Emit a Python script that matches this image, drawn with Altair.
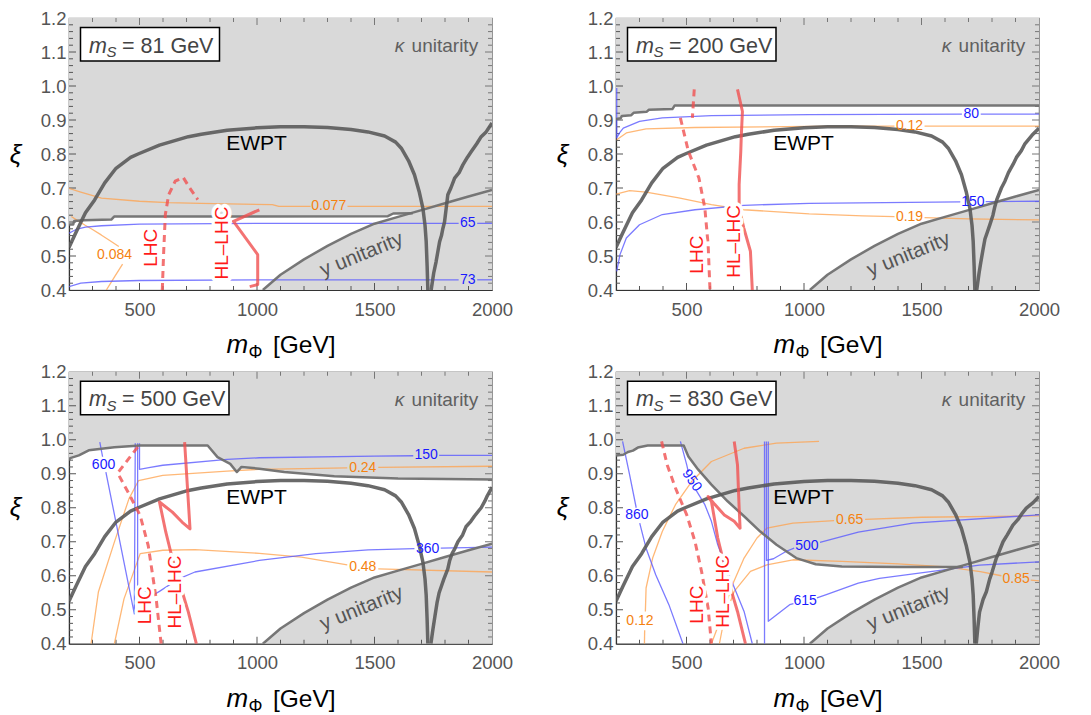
import altair as alt
import pandas as pd

# ---------------------------------------------------------------- data
# shared curves (m_Phi [GeV], xi)
EWPT_LEFT = [(200, 0.525), (230, 0.57), (270, 0.627), (309, 0.665), (352, 0.715), (400, 0.758),
             (462, 0.79), (494, 0.80), (585, 0.826), (708, 0.851), (763, 0.858), (873, 0.87),
             (1000, 0.877), (1100, 0.88), (1200, 0.88), (1300, 0.878), (1400, 0.872), (1472, 0.865),
             (1543, 0.853), (1590, 0.835), (1614, 0.817), (1645, 0.78), (1670, 0.739), (1690, 0.69),
             (1706, 0.64), (1715, 0.59), (1720, 0.542), (1724, 0.47), (1727, 0.40)]
Y_UNITARITY = [(1025, 0.40), (1100, 0.445), (1200, 0.49), (1300, 0.53), (1400, 0.565), (1500, 0.595),
               (1600, 0.615), (1700, 0.635), (1800, 0.655), (1900, 0.675), (2000, 0.694)]

# panel 1 : m_S = 81 GeV
P1_KAPPA = [(200, 0.593), (218, 0.593), (222, 0.603), (262, 0.605), (380, 0.607), (392, 0.616),
            (1557, 0.617), (1580, 0.625), (1663, 0.626)]
P1_EWPT_R = [(1741, 0.40), (1752, 0.45), (1762, 0.483), (1777, 0.542), (1785, 0.56), (1791, 0.581),
             (1798, 0.60), (1805, 0.64), (1812, 0.68), (1825, 0.70), (1841, 0.729), (1860, 0.745),
             (1876, 0.768), (1895, 0.79), (1912, 0.807), (1935, 0.83), (1954, 0.851), (1975, 0.865),
             (2000, 0.891)]
P1_OR_0077 = [(200, 0.699), (250, 0.688), (338, 0.67), (500, 0.661), (621, 0.657), (762, 0.655),
              (1065, 0.651), (1093, 0.646), (1228, 0.646), None, (1385, 0.646), (2000, 0.646)]
P1_OR_0084 = [(359, 0.40), (395, 0.44), (428, 0.476), None, (412, 0.528), (370, 0.547), (337, 0.562),
              (300, 0.578), (267, 0.591), (230, 0.607), (210, 0.616)]
P1_BL_65 = [(200, 0.567), (230, 0.578), (270, 0.585), (338, 0.589), (500, 0.594), (1000, 0.596),
            (1858, 0.596), None, (1937, 0.596), (2000, 0.596)]
P1_BL_73 = [(200, 0.41), (250, 0.42), (338, 0.425), (500, 0.428), (1000, 0.43), (1858, 0.43), None,
            (1937, 0.43), (2000, 0.43)]
P1_LHC = [(597, 0.40), (603, 0.514), (610, 0.622), (624, 0.68), (652, 0.72), (686, 0.731), (714, 0.70),
          (748, 0.666)]
P1_HLLHC = [(969, 0.41), (1003, 0.416), (1003, 0.504), (900, 0.602), (1010, 0.636)]
P1_CLABELS = [("0.077", 1305, 0.646, "o", 0), ("0.084", 394, 0.503, "o", 0),
              ("65", 1897, 0.596, "b", 0), ("73", 1897, 0.43, "b", 0)]

# panel 2 : m_S = 200 GeV
P2_KAPPA = [(200, 0.903), (220, 0.905), (225, 0.912), (265, 0.914), (275, 0.921), (330, 0.924),
            (340, 0.93), (440, 0.932), (450, 0.943), (2000, 0.943)]
P2_EWPT_R = [(1735, 0.40), (1745, 0.45), (1752, 0.48), (1762, 0.52), (1770, 0.55), (1780, 0.57),
             (1790, 0.59), (1804, 0.62), (1812, 0.645), (1820, 0.665), (1840, 0.70), (1855, 0.72),
             (1870, 0.745), (1890, 0.77), (1904, 0.79), (1925, 0.81), (1940, 0.83), (1970, 0.855),
             (2000, 0.876)]
P2_BL_80 = [(203, 0.994), (203, 0.847), (215, 0.862), (231, 0.876), (300, 0.896), (397, 0.906),
            (606, 0.913), (1022, 0.916), (1672, 0.917), None, (1752, 0.917), (2000, 0.917)]
P2_OR_012 = [(203, 0.842), (244, 0.862), (328, 0.874), (536, 0.878), (1022, 0.881), (1385, 0.882), None,
             (1513, 0.882), (2000, 0.882)]
P2_OR_019 = [(200, 0.682), (258, 0.692), (328, 0.688), (467, 0.671), (606, 0.651), (744, 0.636),
             (1022, 0.624), (1250, 0.618), (1385, 0.616), None, (1513, 0.613), (1700, 0.609), (2000, 0.606)]
P2_BL_150 = [(203, 0.455), (217, 0.504), (244, 0.553), (300, 0.592), (397, 0.622), (536, 0.636),
             (744, 0.649), (1022, 0.655), (1665, 0.659), None, (1773, 0.66), (2000, 0.661)]
P2_LHC = [(533, 0.99), (525, 0.906), None, (474, 0.906), (508, 0.808), (553, 0.729), (578, 0.641),
          (592, 0.533), (600, 0.40)]
P2_HLLHC = [(717, 0.99), (738, 0.925), (733, 0.85), (731, 0.808), (724, 0.71), (724, 0.641), (744, 0.582),
            (772, 0.514), (780, 0.40)]
P2_CLABELS = [("80", 1712, 0.917, "b", 0), ("0.12", 1449, 0.882, "o", 0),
              ("0.19", 1449, 0.615, "o", 0), ("150", 1719, 0.659, "b", 0)]

# panel 3 : m_S = 500 GeV
P3_KAPPA = [(200, 0.94), (205, 0.946), (242, 0.954), (284, 0.969), (393, 0.978), (503, 0.983),
            (790, 0.983), (832, 0.949), (886, 0.929), (914, 0.905), (934, 0.92), (1010, 0.915),
            (1116, 0.905), (1329, 0.893), (1600, 0.886), (2000, 0.883)]
P3_EWPT_R = [(1740, 0.40), (1748, 0.44), (1757, 0.48), (1766, 0.52), (1775, 0.55), (1785, 0.57),
             (1795, 0.59), (1812, 0.62), (1820, 0.645), (1830, 0.665), (1842, 0.68), (1855, 0.70),
             (1875, 0.72), (1890, 0.745), (1910, 0.76), (1925, 0.775), (1954, 0.80), (1970, 0.82),
             (1980, 0.835), (2000, 0.86)]
P3_BL_600 = [(331, 0.993), (343, 0.95), None, (357, 0.905), (478, 0.488), (482, 0.99)]
P3_BL_150 = [(500, 0.99), (500, 0.913), (540, 0.918), (599, 0.925), (873, 0.942), (1010, 0.947),
             (1500, 0.952), (1665, 0.953), None, (1775, 0.954), (2000, 0.954)]
P3_BL_360 = [(492, 0.99), (492, 0.57), (555, 0.542), (585, 0.554), (667, 0.591), (736, 0.611),
             (1010, 0.645), (1250, 0.665), (1473, 0.676), (1670, 0.68), None, (1782, 0.681), (2000, 0.684)]
P3_OR_024 = [(294, 0.40), (325, 0.552), (393, 0.699), (455, 0.826), (496, 0.88), (599, 0.895),
             (873, 0.908), (1010, 0.913), (1384, 0.917), None, (1516, 0.919), (2000, 0.922)]
P3_OR_048 = [(393, 0.40), (434, 0.532), (503, 0.665), (599, 0.675), (736, 0.677), (1010, 0.666),
             (1189, 0.655), (1384, 0.632), None, (1516, 0.62), (2000, 0.611)]
P3_LHC = [(592, 0.40), (571, 0.532), (537, 0.689), (503, 0.777), (455, 0.841), (407, 0.902),
          (455, 0.945), (503, 0.988)]
P3_HLLHC = [(742, 0.40), (708, 0.493), (640, 0.65), (612, 0.728), (585, 0.817), (640, 0.787),
            (681, 0.758), (715, 0.738), (692, 0.993)]
P3_CLABELS = [("600", 347, 0.927, "b", 0), ("150", 1720, 0.954, "b", 0), ("360", 1726, 0.68, "b", 0),
              ("0.24", 1450, 0.918, "o", 0), ("0.48", 1450, 0.626, "o", 0)]

# panel 4 : m_S = 830 GeV
P4_KAPPA = [(200, 0.954), (231, 0.956), (251, 0.964), (272, 0.968), (293, 0.977), (335, 0.983),
            (488, 0.983), (508, 0.951), (550, 0.912), (606, 0.868), (675, 0.819), (745, 0.775),
            (814, 0.73), (883, 0.691), (967, 0.652), (1050, 0.634), (1161, 0.627), (1400, 0.626),
            (1676, 0.626)]
P4_EWPT_R = [(1733, 0.40), (1740, 0.45), (1747, 0.493), (1762, 0.53), (1776, 0.553), (1790, 0.59),
             (1800, 0.61), (1818, 0.651), (1830, 0.67), (1847, 0.70), (1865, 0.72), (1889, 0.749),
             (1910, 0.765), (1930, 0.785), (1946, 0.799), (1975, 0.815), (2000, 0.833)]
P4_BL_860 = [(228, 0.995), (258, 0.897), (286, 0.80), None, (301, 0.755), (328, 0.681), (369, 0.603),
             (425, 0.515), (485, 0.40)]
P4_BL_950 = [(474, 0.995), (501, 0.926), (508, 0.905), None, (538, 0.855), (578, 0.809), (606, 0.76),
             (633, 0.691), (675, 0.613), (745, 0.495), (780, 0.40)]
P4_BL_VERT = [(832, 0.995), (832, 0.40)]
P4_BL_500 = [(840, 0.995), (840, 0.645), (870, 0.65), (925, 0.672), (958, 0.681), None, (1068, 0.698),
             (1231, 0.728), (1463, 0.755), (2000, 0.779)]
P4_BL_615 = [(848, 0.995), (848, 0.466), (939, 0.515), (955, 0.518), None, (1055, 0.535), (1092, 0.544),
             (1231, 0.578), (1321, 0.592), (1747, 0.631), (2000, 0.641)]
P4_OR_012 = [(321, 0.40), (322, 0.44), None, (325, 0.495), (328, 0.564), (356, 0.652), (397, 0.73),
             (453, 0.809), (522, 0.877), (606, 0.936), (745, 0.975), (883, 0.99), (1064, 0.995)]
P4_OR_065 = [(606, 0.40), (647, 0.475), (696, 0.574), (745, 0.652), (800, 0.711), (842, 0.74),
             (953, 0.755), (1128, 0.762), None, (1260, 0.766), (1500, 0.772), (2000, 0.776)]
P4_OR_085 = [(640, 0.40), (661, 0.475), (703, 0.554), (772, 0.613), (842, 0.632), (953, 0.647),
             (1161, 0.642), (1400, 0.635), (1605, 0.626), (1750, 0.612), (1840, 0.60), None,
             (1965, 0.587), (2000, 0.585)]
P4_LHC = [(394, 0.995), (418, 0.926), (453, 0.858), (501, 0.779), (536, 0.701), (564, 0.613),
          (592, 0.505), (606, 0.40)]
P4_HLLHC = [(751, 0.40), (717, 0.495), (675, 0.593), (633, 0.711), (606, 0.819), (592, 0.833),
            (620, 0.81), (661, 0.779), (703, 0.76), (728, 0.74), (724, 0.80), (717, 0.926), (703, 0.995)]
P4_CLABELS = [("860", 289, 0.778, "b", 0), ("950", 522, 0.88, "b", 55), ("500", 1012, 0.688, "b", 0),
              ("615", 1005, 0.526, "b", 0), ("0.12", 302, 0.466, "o", 0), ("0.65", 1194, 0.764, "o", 0),
              ("0.85", 1903, 0.59, "o", 0)]

MASSES = ["81", "200", "500", "830"]
X_TICKS = [500, 1000, 1500, 2000]
Y_TICKS = [0.4, 0.5, 0.6, 0.7, 0.8, 0.9, 1.0, 1.1, 1.2]

PANELS = [
    dict(mass=MASSES[0], kappa=P1_KAPPA, ewpt_r=P1_EWPT_R, orange=[P1_OR_0077, P1_OR_0084],
         blue=[P1_BL_65, P1_BL_73], lhc=P1_LHC, hllhc=P1_HLLHC, lhc_lab=(548, 0.524),
         hl_lab=(852, 0.538), clabels=P1_CLABELS),
    dict(mass=MASSES[1], kappa=P2_KAPPA, ewpt_r=P2_EWPT_R, orange=[P2_OR_012, P2_OR_019],
         blue=[P2_BL_80, P2_BL_150], lhc=P2_LHC, hllhc=P2_HLLHC, lhc_lab=(543, 0.504),
         hl_lab=(703, 0.543), clabels=P2_CLABELS),
    dict(mass=MASSES[2], kappa=P3_KAPPA, ewpt_r=P3_EWPT_R, orange=[P3_OR_024, P3_OR_048],
         blue=[P3_BL_600, P3_BL_150, P3_BL_360], lhc=P3_LHC, hllhc=P3_HLLHC, lhc_lab=(523, 0.513),
         hl_lab=(653, 0.552), clabels=P3_CLABELS),
    dict(mass=MASSES[3], kappa=P4_KAPPA, ewpt_r=P4_EWPT_R, orange=[P4_OR_012, P4_OR_065, P4_OR_085],
         blue=[P4_BL_860, P4_BL_950, P4_BL_VERT, P4_BL_500, P4_BL_615], lhc=P4_LHC, hllhc=P4_HLLHC,
         lhc_lab=(543, 0.515), hl_lab=(654, 0.554), clabels=P4_CLABELS),
]

# ---------------------------------------------------------------- style
W, H = 423, 272
FONT = "Liberation Sans"
FILL = "#d9d9d9"
BOUND = "#707070"
EWPT_C = "#5a5a5a"
ORANGE = "#ffa04a"
BLUE = "#5a5aff"
RED = "#f05050"
ORANGE_T = "#f58210"
BLUE_T = "#1a1aff"

XS = alt.Scale(domain=[200, 2000], nice=False, zero=False)
YS = alt.Scale(domain=[0.4, 1.2], nice=False, zero=False)
X_AXIS = alt.Axis(values=X_TICKS, format="d", title=None, grid=False, ticks=False, tickSize=0,
                  labelPadding=10, labelFontSize=18.5, labelColor="#555555", labelFont=FONT,
                  labelFlush=False, labelOverlap=False,
                  domainColor="#333333", domainWidth=1.2)
Y_AXIS = alt.Axis(values=Y_TICKS, format=".1f", title="ξ", grid=False, ticks=False, tickSize=0,
                  labelPadding=3, labelFontSize=18.5, labelColor="#555555", labelFont=FONT,
                  labelFlush=False, labelOverlap=False,
                  domainColor="#333333", domainWidth=1.2, titleFont=FONT, titleFontSize=26,
                  titleFontStyle="italic", titleFontWeight="normal", titleAngle=0, titleX=-54,
                  titleY=H / 2, titleAlign="center", titleBaseline="middle", titleColor="black")


def X():
    return alt.X("x:Q", scale=XS, axis=X_AXIS)


def Y():
    return alt.Y("y:Q", scale=YS, axis=Y_AXIS)


ONE = pd.DataFrame({"k": [0]})


def seg_rows(points, key):
    rows, seg, i = [], 0, 0
    for p in points:
        if p is None:
            seg += 1
            continue
        rows.append({"seg": f"{key}_{seg}", "i": i, "x": p[0], "y": p[1]})
        i += 1
    return rows


def line_layer(curves, color, width, dash=None, opacity=1.0):
    rows = []
    for k, pts in enumerate(curves):
        rows += seg_rows(pts, k)
    kw = dict(color=color, strokeWidth=width, opacity=opacity, clip=True, strokeJoin="round")
    if dash:
        kw["strokeDash"] = dash
    return alt.Chart(pd.DataFrame(rows)).mark_line(**kw).encode(
        x=X(), y=Y(), detail="seg:N", order="i:Q")


def area_layer(points, edge):
    pts = list(points)
    if pts[-1][0] < 2000:
        pts.append((2000, pts[-1][1]))
    df = pd.DataFrame(pts, columns=["x", "y"])
    return alt.Chart(df).mark_area(color=FILL, opacity=1, clip=True).encode(
        x=X(), y=Y(), y2=alt.datum(edge))


def tick_layers():
    xmaj = pd.DataFrame({"x": [500, 1000, 1500]})
    xmin = pd.DataFrame({"x": [v for v in range(300, 2000, 100) if v % 500]})
    ymaj = pd.DataFrame({"y": [0.5, 0.6, 0.7, 0.8, 0.9, 1.0, 1.1]})
    ymin = pd.DataFrame({"y": [round(0.4 + 0.02 * k, 2) for k in range(1, 40) if k % 5]})
    out = []
    for df, ln in ((xmaj, 7), (xmin, 4)):
        out.append(alt.Chart(df).mark_rule(color="#555555", strokeWidth=1).encode(
            x=X(), y=alt.value(H), y2=alt.value(H - ln)))
        out.append(alt.Chart(df).mark_rule(color="#777777", strokeWidth=1).encode(
            x=X(), y=alt.value(0), y2=alt.value(ln)))
    for df, ln in ((ymaj, 7), (ymin, 4)):
        out.append(alt.Chart(df).mark_rule(color="#555555", strokeWidth=1).encode(
            y=Y(), x=alt.value(0), x2=alt.value(ln)))
        out.append(alt.Chart(df).mark_rule(color="#777777", strokeWidth=1).encode(
            y=Y(), x=alt.value(W), x2=alt.value(W - ln)))
    return out


def text_at(t, x, y, **kw):
    df = pd.DataFrame({"x": [x], "y": [y], "t": [t]})
    return alt.Chart(df).mark_text(font=FONT, **kw).encode(x=X(), y=Y(), text="t:N")


def px_text(t, x, y, **kw):
    return alt.Chart(ONE).mark_text(font=FONT, align="left", baseline="alphabetic", **kw).encode(
        x=alt.value(x), y=alt.value(y), text=alt.value(t))


def panel(spec):
    L = []
    L.append(area_layer(spec["kappa"], 1.2))
    L.append(area_layer(Y_UNITARITY, 0.4))
    L += tick_layers()
    L.append(line_layer(spec["orange"], ORANGE, 1.3, opacity=0.75))
    L.append(line_layer(spec["blue"], BLUE, 1.3, opacity=0.8))
    L.append(line_layer([spec["kappa"], Y_UNITARITY], BOUND, 2.5, opacity=0.95))
    L.append(line_layer([EWPT_LEFT, spec["ewpt_r"]], EWPT_C, 3.5, opacity=0.9))
    L.append(line_layer([spec["lhc"]], RED, 3, dash=[7, 5], opacity=0.8))
    L.append(line_layer([spec["hllhc"]], RED, 3, opacity=0.8))

    # contour labels
    cl = pd.DataFrame([{"t": t, "x": x, "y": y, "c": ORANGE_T if k == "o" else BLUE_T, "a": a}
                       for t, x, y, k, a in spec["clabels"]])
    L.append(alt.Chart(cl).mark_text(font=FONT, fontSize=14, baseline="middle").encode(
        x=X(), y=Y(), text="t:N", color=alt.Color("c:N", scale=None),
        angle=alt.Angle("a:Q", scale=None)))

    # LHC labels with white background halo
    for t, (x, y) in (("LHC", spec["lhc_lab"]), ("HL–LHC", spec["hl_lab"])):
        L.append(text_at(t, x, y, fontSize=19, angle=270, baseline="middle", fill="white",
                         stroke="white", strokeWidth=7, strokeJoin="round"))
        L.append(text_at(t, x, y, fontSize=19, angle=270, baseline="middle", color="#ff1a1a"))

    # region names
    L.append(text_at("EWPT", 998, 0.829, fontSize=21, baseline="middle", color="black"))
    L.append(text_at("unitarity", 1941, 1.118, fontSize=19, baseline="middle", align="right",
                     color="#606060"))
    L.append(text_at("κ", 1941, 1.118, fontSize=19, baseline="middle", align="right", dx=-74,
                     fontStyle="italic", color="#606060"))
    L.append(text_at("y unitarity", 1445, 0.504, fontSize=20.5, baseline="middle", angle=338,
                     color="#555555"))

    # m_S box
    bw = 150.5 if len(spec["mass"]) == 2 else 160
    L.append(alt.Chart(ONE).mark_rect(fill="white", stroke="black", strokeWidth=1.5).encode(
        x=alt.value(11.5), x2=alt.value(bw), y=alt.value(9.5), y2=alt.value(43)))
    L.append(px_text("m", 20, 34.5, fontSize=21.5, fontStyle="italic", color="#444444"))
    L.append(px_text("S", 37.5, 39, fontSize=15, fontStyle="italic", color="#444444"))
    L.append(px_text("= " + spec["mass"] + " GeV", 53, 34.5, fontSize=21.5, color="#444444"))

    # x-axis title  m_Phi [GeV]
    L.append(px_text("m", 157.5, H + 63, fontSize=26, fontStyle="italic", color="black"))
    L.append(px_text("Φ", 179.5, H + 68, fontSize=17.5, color="black"))
    L.append(px_text("[GeV]", 204, H + 63, fontSize=24.5, color="black"))

    return alt.layer(*L).properties(width=W, height=H)


chart = (alt.concat(*[panel(p) for p in PANELS], columns=2, bounds="flush",
                    spacing=alt.RowColnumber(row=81.75, column=124))
         .properties(padding={"left": 0, "top": 0, "right": 0, "bottom": 0})
         .configure(font=FONT, background="white")
         .configure_view(stroke="#8a8a8a", strokeWidth=1.2))

chart.save("out.html", embed_options={"renderer": "svg", "actions": False})
